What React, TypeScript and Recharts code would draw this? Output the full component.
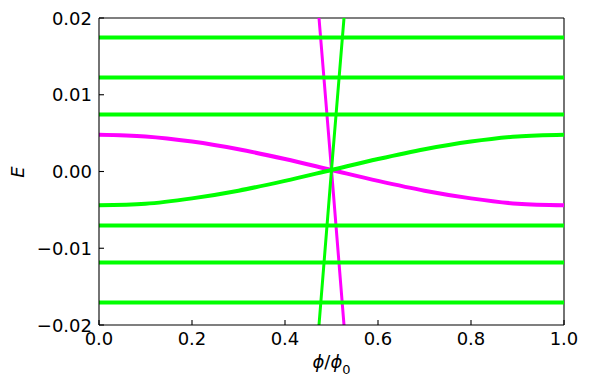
import React from 'react';
import { LineChart, Line, XAxis, YAxis, ReferenceLine, Label } from 'recharts';

// sample positions (phi / phi0) used by the two smooth bands
const phiGrid = [0, 0.1, 0.2, 0.3, 0.4, 0.5, 0.6, 0.7, 0.8, 0.9, 1.0];
const magentaBand = [0.0048, 0.00457, 0.0039, 0.0029, 0.00162, 0.0002, -0.00122, -0.0025, -0.0035, -0.0042, -0.0044];
const greenBand = [-0.0044, -0.0042, -0.0035, -0.0025, -0.00122, 0.0002, 0.00162, 0.0029, 0.0039, 0.00457, 0.0048];

// flat (phi-independent) levels
const flatLevels = [0.01745, 0.01224, 0.00742, -0.00703, -0.01185, -0.01706];

// steep crossing lines near phi0/2
const steepPhi = [0.4731, 0.5, 0.5269];
const steepMagenta = [0.02, 0.0002, -0.02];
const steepGreen = [-0.02, 0.0002, 0.02];

const xTicks = [0, 0.2, 0.4, 0.6, 0.8, 1.0];
const yTicks = [-0.02, -0.01, 0, 0.01, 0.02];

const GREEN = '#00ff00';
const MAGENTA = '#ff00ff';
const FONT = '"DejaVu Sans", sans-serif';

const zip = (xs: number[], ys: number[]) => xs.map((x, i) => ({ x, y: ys[i] }));

const fmtY = (v: number) => {
  const s = Math.abs(v).toFixed(2);
  return v < -1e-12 ? '\u2212' + s : s;
};

const XTick = (props: any) => {
  const { x, y, payload } = props;
  return (
    <g>
      <line x1={x} y1={y} x2={x} y2={y - 5} stroke="#000" strokeWidth={1.1} />
      <text x={x} y={y + 20} textAnchor="middle" fontSize={18} fontFamily={FONT} fill="#000">
        {Number(payload.value).toFixed(1)}
      </text>
    </g>
  );
};

const YTick = (props: any) => {
  const { x, y, payload } = props;
  return (
    <g>
      <line x1={x} y1={y} x2={x + 5} y2={y} stroke="#000" strokeWidth={1.1} />
      <text x={x - 7} y={y + 6.5} textAnchor="end" fontSize={18} fontFamily={FONT} fill="#000">
        {fmtY(Number(payload.value))}
      </text>
    </g>
  );
};

const XLabel = (props: any) => {
  const vb = props.viewBox || { x: 99, y: 325, width: 465 };
  const cx = vb.x + vb.width / 2;
  return (
    <text x={cx} y={vb.y + 43} textAnchor="middle" fontSize={18} fontFamily={FONT} fill="#000">
      <tspan fontStyle="italic">ϕ</tspan>
      <tspan>/</tspan>
      <tspan fontStyle="italic">ϕ</tspan>
      <tspan fontSize={13} dy={6}>0</tspan>
    </text>
  );
};

const YLabel = () => (
  <text
    x={24}
    y={172}
    textAnchor="middle"
    fontSize={18}
    fontStyle="italic"
    fontFamily={FONT}
    fill="#000"
    transform="rotate(-90, 24, 172)"
  >
    E
  </text>
);

export default function App() {
  return (
    <div style={{ position: 'absolute', left: 0, top: 0, background: '#fff' }}>
      <LineChart width={589} height={387} margin={{ top: 18, right: 25, bottom: 32, left: 39 }}>
        <XAxis
          type="number"
          dataKey="x"
          domain={[0, 1]}
          ticks={xTicks}
          interval={0}
          tickSize={0}
          tickMargin={0}
          tickLine={false}
          tick={<XTick />}
          height={30}
          axisLine={{ stroke: '#000', strokeWidth: 1.1 }}
          allowDataOverflow
        >
          <Label content={<XLabel />} />
        </XAxis>
        <YAxis
          type="number"
          dataKey="y"
          domain={[-0.02, 0.02]}
          ticks={yTicks}
          interval={0}
          tickSize={0}
          tickMargin={0}
          tickLine={false}
          tick={<YTick />}
          width={60}
          axisLine={{ stroke: '#000', strokeWidth: 1.1 }}
          allowDataOverflow
        >
          <Label content={<YLabel />} />
        </YAxis>
        <ReferenceLine x={1} stroke="#000" strokeWidth={1.1} />
        <ReferenceLine y={0.02} stroke="#000" strokeWidth={1.1} />

        <Line
          data={zip(phiGrid, magentaBand)}
          dataKey="y"
          type="monotone"
          stroke={MAGENTA}
          strokeWidth={4}
          dot={false}
          activeDot={false}
          isAnimationActive={false}
        />
        <Line
          data={zip(steepPhi, steepMagenta)}
          dataKey="y"
          type="linear"
          stroke={MAGENTA}
          strokeWidth={3}
          dot={false}
          activeDot={false}
          isAnimationActive={false}
        />
        {flatLevels.map((lv, i) => (
          <Line
            key={i}
            data={zip([0, 1], [lv, lv])}
            dataKey="y"
            type="linear"
            stroke={GREEN}
            strokeWidth={4}
            dot={false}
            activeDot={false}
            isAnimationActive={false}
          />
        ))}
        <Line
          data={zip(phiGrid, greenBand)}
          dataKey="y"
          type="monotone"
          stroke={GREEN}
          strokeWidth={4}
          dot={false}
          activeDot={false}
          isAnimationActive={false}
        />
        <Line
          data={zip(steepPhi, steepGreen)}
          dataKey="y"
          type="linear"
          stroke={GREEN}
          strokeWidth={3}
          dot={false}
          activeDot={false}
          isAnimationActive={false}
        />
      </LineChart>
    </div>
  );
}
